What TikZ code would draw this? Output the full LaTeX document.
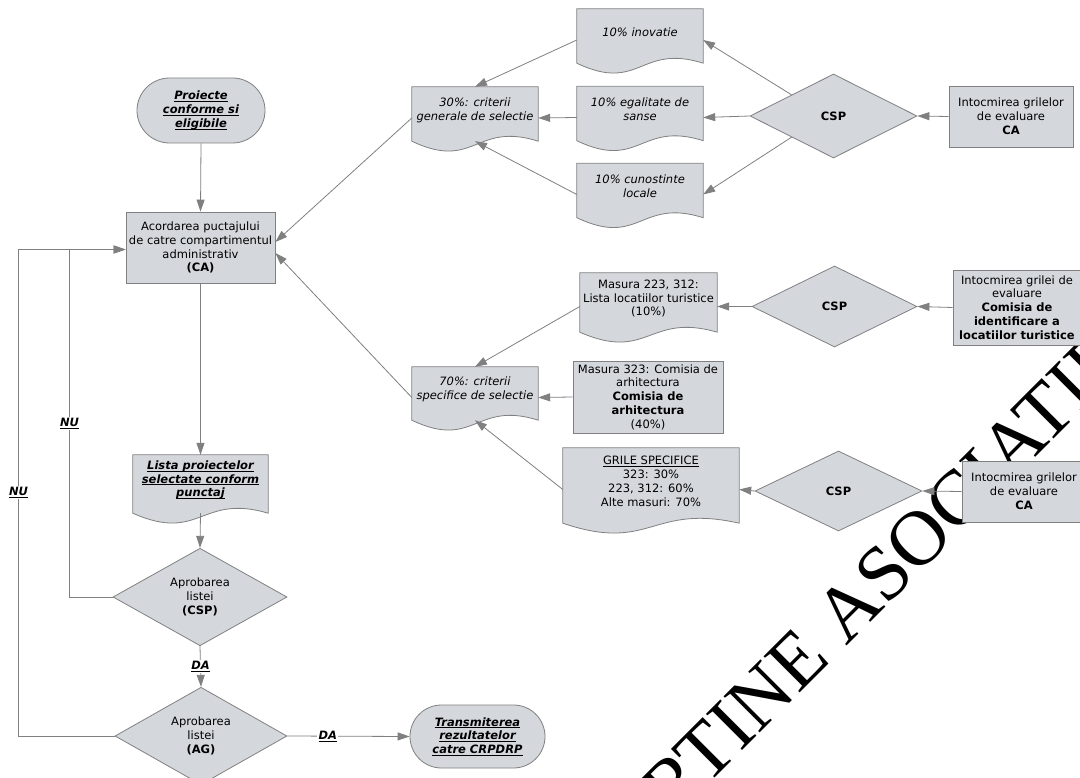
\documentclass[tikz,border=0pt]{standalone}
\usepackage{fontspec}
\setmainfont{DejaVu Sans}
\newfontfamily\wmfont{Liberation Serif}
\usetikzlibrary{arrows.meta,shapes.geometric,shapes.misc,calc}
\definecolor{shapefill}{RGB}{212,216,221}
\definecolor{edgegray}{RGB}{128,128,128}
\newsavebox\ulbox
\newcommand\ulx[1]{\sbox\ulbox{#1}\rlap{\rule[-2pt]{\wd\ulbox}{0.8pt}}\usebox\ulbox}
\pgfdeclarelayer{wm}
\pgfdeclarelayer{bg}
\pgfsetlayers{wm,bg,main}
\tikzset{
  txt/.style={inner sep=0pt, align=center, font=\fontsize{11.5}{13.8}\selectfont},
  procbox/.style={txt, rectangle, draw=edgegray, fill=shapefill, line width=0.8pt},
  termbox/.style={txt, rounded rectangle, draw=edgegray, fill=shapefill, line width=0.8pt},
  decbox/.style={txt, diamond, draw=edgegray, fill=shapefill, line width=0.8pt},
  docbox/.style={txt, rectangle},
  bi/.style={font=\fontsize{11.5}{13.8}\selectfont\bfseries\itshape},
  it/.style={font=\fontsize{11.5}{13.8}\selectfont\itshape},
  conn/.style={draw=edgegray, line width=0.8pt, -{Triangle[length=12pt,width=8pt]}},
  lbl/.style={fill=white, inner sep=1.5pt, font=\fontsize{11.5}{13.8}\selectfont\bfseries\itshape},
}
\newcommand\docshape[1]{%
  \begin{pgfonlayer}{bg}
  \path[draw=edgegray, fill=shapefill, line width=0.8pt]
    (#1.north west) -- (#1.north east) -- ($(#1.south east)+(0,8)$)
    .. controls ($(#1.south)+(0,-12)$) and ($(#1.south)+(0,38)$) ..
    ($(#1.south west)+(0,8)$) -- cycle;
  \end{pgfonlayer}}
\begin{document}
\begin{tikzpicture}[x=1pt,y=-1pt]
\useasboundingbox (0,0) rectangle (1080,778);
\begin{pgfonlayer}{wm}
  \fill[white] (0,0) rectangle (1080,778);
  \node[inner sep=0pt, anchor=base west, rotate=45, font=\wmfont\fontsize{78}{78}\selectfont] (wmark) at (568,925) {APARTINE ASOCIATIEI};
\end{pgfonlayer}

% left column
\node[termbox, bi, minimum width=128pt, minimum height=65pt] (start) at (201,110.5) {\ulx{Proiecte}\\\ulx{conforme si}\\\ulx{eligibile}};
\node[procbox, minimum width=149pt, minimum height=71pt] (ca) at (200.5,247.5) {Acordarea puctajului\\de catre compartimentul\\administrativ\\\textbf{(CA)}};
\node[docbox, bi, minimum width=135pt, minimum height=50pt] (lista) at (200.5,480) {\ulx{Lista proiectelor}\\\ulx{selectate conform}\\\ulx{punctaj}};
\docshape{lista}
\node[decbox, minimum width=174pt, minimum height=87pt] (apr1) at (200,597) {Aprobarea\\listei\\\textbf{(CSP)}};
\node[decbox, minimum width=172pt, minimum height=88pt] (apr2) at (201,736) {Aprobarea\\listei\\\textbf{(AG)}};
\node[termbox, bi, minimum width=135pt, minimum height=63pt] (trans) at (477.5,736.5) {\ulx{Transmiterea}\\\ulx{rezultatelor}\\\ulx{catre CRPDRP}};

% top group
\node[docbox, it, minimum width=126pt, minimum height=46pt] (g30) at (475,110) {30\%: criterii\\generale de selectie};
\docshape{g30}
\node[docbox, it, minimum width=126pt, minimum height=46pt] (inov) at (640,32) {10\% inovatie};
\docshape{inov}
\node[docbox, it, minimum width=126pt, minimum height=46pt] (egal) at (640,109.5) {10\% egalitate de\\sanse};
\docshape{egal}
\node[docbox, it, minimum width=126pt, minimum height=46pt] (cun) at (640,186.5) {10\% cunostinte\\locale};
\docshape{cun}
\node[decbox, minimum width=167pt, minimum height=84pt] (csp1) at (833.5,116) {\textbf{CSP}};
\node[procbox, minimum width=124pt, minimum height=61pt] (ev1) at (1011,116.5) {Intocmirea grilelor\\de evaluare\\\textbf{CA}};

% middle group
\node[docbox, minimum width=137pt, minimum height=51pt] (loc) at (648.5,298.5) {Masura 223, 312:\\Lista locatiilor turistice\\(10\%)};
\docshape{loc}
\node[decbox, minimum width=165pt, minimum height=81pt] (csp2) at (834.5,306.5) {\textbf{CSP}};
\node[procbox, minimum width=128pt, minimum height=75pt] (ev2) at (1017,307.5) {Intocmirea grilei de\\evaluare\\\textbf{Comisia de}\\\textbf{identificare a}\\\textbf{locatiilor turistice}};
\node[docbox, it, minimum width=126pt, minimum height=45pt] (g70) at (475,389.5) {70\%: criterii\\specifice de selectie};
\docshape{g70}
\node[procbox, minimum width=150pt, minimum height=72pt] (arh) at (648,397) {Masura 323: Comisia de\\arhitectura\\\textbf{Comisia de}\\\textbf{arhitectura}\\(40\%)};
\node[docbox, minimum width=176pt, minimum height=67pt] (grile) at (651,481.5) {\ulx{GRILE SPECIFICE}\\323: 30\%\\223, 312: 60\%\\Alte masuri: 70\%};
\docshape{grile}
\node[decbox, minimum width=167pt, minimum height=80pt] (csp3) at (838.5,491) {\textbf{CSP}};
\node[procbox, minimum width=124pt, minimum height=61pt] (ev3) at (1024,491.5) {Intocmirea grilelor\\de evaluare\\\textbf{CA}};

% left column connectors
\draw[conn] (start.south) -- (ca.north);
\draw[conn] (ca.south) -- (lista.north);
\draw[conn] ([yshift=-8pt]lista.south) -- (apr1.north);
\draw[conn] (apr1.south) -- node[lbl]{\ulx{DA}} (apr2.north);
\draw[conn] (apr2.east) -- node[lbl,pos=0.33]{\ulx{DA}} (trans.west);
\draw[conn] (apr1.west) -- ++(-43,0) |- node[lbl,pos=0.25]{\ulx{NU}} ([yshift=-2pt]ca.west);
\draw[conn] (apr2.west) -- ++(-96,0) |- node[lbl,pos=0.25]{\ulx{NU}} ([yshift=-2pt]ca.west);

% top group connectors
\draw[conn] ([yshift=-8pt]inov.west) -- (g30.north);
\draw[conn] ([yshift=-8pt]egal.west) -- ([yshift=-8pt]g30.east);
\draw[conn] ([yshift=-8pt]cun.west) -- ([yshift=-8pt]g30.south);
\draw[conn] ($(csp1.west)!0.5!(csp1.north)$) -- ([yshift=-8pt]inov.east);
\draw[conn] (csp1.west) -- ([yshift=-8pt]egal.east);
\draw[conn] ($(csp1.west)!0.5!(csp1.south)$) -- ([yshift=-8pt]cun.east);
\draw[conn] (ev1.west) -- (csp1.east);
\draw[conn] ([yshift=-8pt]g30.west) -- ([yshift=5.5pt]ca.east);

% middle group connectors
\draw[conn] (ev2.west) -- (csp2.east);
\draw[conn] (csp2.west) -- ([yshift=-8pt]loc.east);
\draw[conn] ([yshift=-8pt]loc.west) -- (g70.north);
\draw[conn] (arh.west) -- ([yshift=-8pt]g70.east);
\draw[conn] ([yshift=-8pt]grile.west) -- ([yshift=-8pt]g70.south);
\draw[conn] (ev3.west) -- (csp3.east);
\draw[conn] (csp3.west) -- ([yshift=-8pt]grile.east);
\draw[conn] ([yshift=-8pt]g70.west) -- ([yshift=-5.5pt]ca.east);
\end{tikzpicture}
\end{document}
